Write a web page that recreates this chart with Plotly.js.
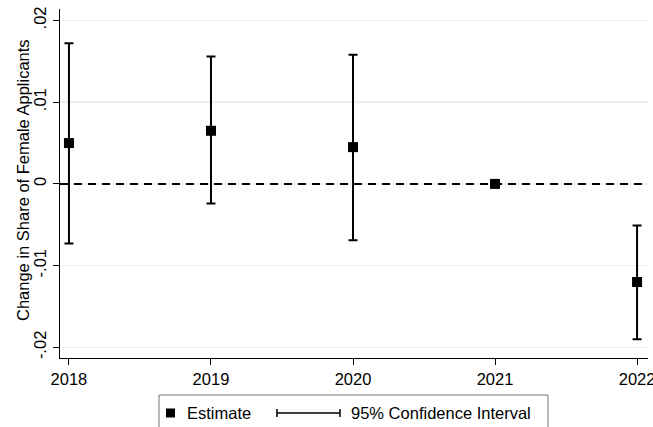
<!DOCTYPE html>
<html>
<head>
<meta charset="utf-8">
<script src="https://cdn.plot.ly/plotly-3.0.1.min.js"></script>
<style>html,body{margin:0;padding:0;background:#fff;}#chart{width:653px;height:427px;}</style>
</head>
<body>
<div id="chart"></div>
<script>
const years = [2018, 2019, 2020, 2021, 2022];
const estimate = [0.0050, 0.0065, 0.0045, 0.0000, -0.0120];
const ciLow = [-0.0073, -0.0024, -0.0069, 0.0000, -0.0190];
const ciHigh = [0.0172, 0.0156, 0.0158, 0.0000, -0.0051];
const refValue = 0;
const yTickVals = [-0.02, -0.01, 0, 0.01, 0.02];
const yTickText = ['-.02', '-.01', '0', '.01', '.02'];
const xTickVals = [2018, 2019, 2020, 2021, 2022];
const xTickText = ['2018', '2019', '2020', '2021', '2022'];

const errPlus = estimate.map((e, i) => ciHigh[i] - e);
const errMinus = estimate.map((e, i) => e - ciLow[i]);

const FONT = 'Liberation Sans, Arial, sans-serif';
const xRange = [2017.937, 2022.077];
const yRange = [-0.0213, 0.0214];

// plot area in pixels: x 60..648, y 9..358
const L = 60, R = 648, T = 9, B = 358;
const px = v => (v - L) / (R - L);
const py = v => (B - v) / (B - T);

const refLine = {
  x: xRange, y: [refValue, refValue], type: 'scatter', mode: 'lines',
  line: {color: '#000', width: 2, dash: '8px,6px'}, showlegend: false, hoverinfo: 'skip'
};

const trace = {
  x: years, y: estimate, type: 'scatter', mode: 'markers',
  marker: {symbol: 'square', size: 10, color: '#000'},
  error_y: {type: 'data', symmetric: false, array: errPlus, arrayminus: errMinus,
            color: '#000', thickness: 2, width: 4.5},
  showlegend: false, hoverinfo: 'skip'
};

const legY = 413;
const shapes = [
  // legend box
  {type: 'rect', xref: 'paper', yref: 'paper', x0: px(159), x1: px(548), y0: py(395), y1: py(440),
   line: {color: '#777', width: 1}, fillcolor: '#fff', layer: 'above'},
  // estimate marker
  {type: 'rect', xref: 'paper', yref: 'paper', x0: px(166), x1: px(175), y0: py(legY - 4.5), y1: py(legY + 4.5),
   line: {width: 0}, fillcolor: '#000', layer: 'above'},
  // CI symbol
  {type: 'line', xref: 'paper', yref: 'paper', x0: px(277), x1: px(340), y0: py(legY), y1: py(legY),
   line: {color: '#000', width: 1.5}, layer: 'above'},
  {type: 'line', xref: 'paper', yref: 'paper', x0: px(277), x1: px(277), y0: py(legY - 4), y1: py(legY + 4),
   line: {color: '#000', width: 1.5}, layer: 'above'},
  {type: 'line', xref: 'paper', yref: 'paper', x0: px(340), x1: px(340), y0: py(legY - 4), y1: py(legY + 4),
   line: {color: '#000', width: 1.5}, layer: 'above'}
];

const annotations = [
  {xref: 'paper', yref: 'paper', x: px(185), y: py(legY), xanchor: 'left', yanchor: 'middle',
   text: 'Estimate', showarrow: false, font: {family: FONT, size: 16.5, color: '#000'}},
  {xref: 'paper', yref: 'paper', x: px(349), y: py(legY), xanchor: 'left', yanchor: 'middle',
   text: '95% Confidence Interval', showarrow: false, font: {family: FONT, size: 16.5, color: '#000'}},
  {xref: 'paper', yref: 'paper', x: px(23), y: py(180), xanchor: 'center', yanchor: 'middle',
   textangle: -90, text: 'Change in Share of Female Applicants', showarrow: false,
   font: {family: FONT, size: 16.5, color: '#000'}}
];

const layout = {
  width: 653, height: 427,
  margin: {l: L, r: 653 - R, t: T, b: 427 - B, pad: 0},
  paper_bgcolor: '#fff', plot_bgcolor: '#fff',
  font: {family: FONT, color: '#000', size: 16.5},
  xaxis: {
    range: xRange, tickvals: xTickVals, ticktext: xTickText,
    showgrid: false, zeroline: false, showline: true, linecolor: '#000', linewidth: 1,
    ticks: 'outside', ticklen: 6, tickwidth: 1, tickcolor: '#000', ticklabeloverflow: 'allow',
    tickfont: {family: FONT, size: 16.5, color: '#000'}, mirror: false
  },
  yaxis: {
    range: yRange, tickvals: yTickVals, ticktext: yTickText, tickangle: -90,
    showgrid: true, gridcolor: '#e9eff2', gridwidth: 1.5, zeroline: false,
    showline: true, linecolor: '#000', linewidth: 1,
    ticks: 'outside', ticklen: 6, tickwidth: 1, tickcolor: '#000',
    tickfont: {family: FONT, size: 16.5, color: '#000'}
  },
  shapes: shapes,
  annotations: annotations,
  showlegend: false
};

Plotly.newPlot('chart', [refLine, trace], layout, {staticPlot: true, displayModeBar: false});
</script>
</body>
</html>
